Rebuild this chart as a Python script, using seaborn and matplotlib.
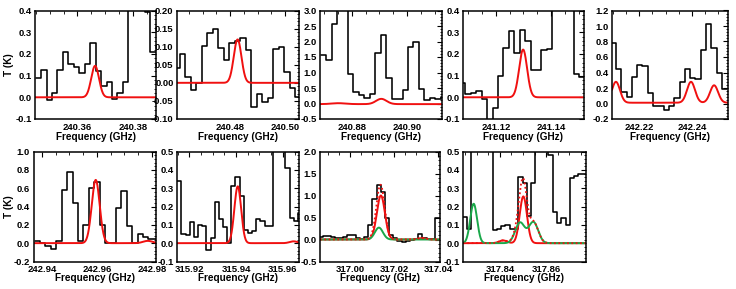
import numpy as np
import pandas as pd
import matplotlib
matplotlib.use("Agg")
import matplotlib.pyplot as plt
import seaborn as sns
from matplotlib.ticker import MultipleLocator, AutoMinorLocator, FuncFormatter

sns.set_theme(style="white")
plt.rcParams["font.family"] = ["Liberation Sans", "DejaVu Sans"]
plt.rcParams["axes.linewidth"] = 1.0

# ---------------- data (channel centres in GHz, brightness in K) ----------------
freq_1 = [240.3459, 240.34787, 240.34984, 240.35181, 240.35378, 240.35575, 240.35772,
          240.35969, 240.36166, 240.36363, 240.3656, 240.36757, 240.36954, 240.37151,
          240.37348, 240.37545, 240.37742, 240.37939, 240.38136, 240.38333, 240.3853, 240.38727]
tb_1 = [0.09, 0.125, -0.012, 0.02, 0.125, 0.21, 0.155, 0.14, 0.11, 0.155, 0.25, 0.12,
        0.05, 0.07, -0.01, 0.02, 0.07, 0.55, 0.7, 0.6, 0.395, 0.21]

freq_2 = [240.4606, 240.46261, 240.46462, 240.46663, 240.46864, 240.47065, 240.47266,
          240.47467, 240.47668, 240.47869, 240.4807, 240.48271, 240.48472, 240.48673,
          240.48874, 240.49075, 240.49276, 240.49477, 240.49678, 240.49879, 240.5008,
          240.50281, 240.50482]
tb_2 = [0.04, 0.08, 0.015, -0.02, 0.0, 0.103, 0.137, 0.149, 0.095, 0.063, 0.111, 0.115,
        0.125, 0.09, -0.068, -0.032, -0.053, -0.043, 0.093, 0.10, 0.03, -0.015, -0.04]

freq_3 = [240.8697, 240.87168, 240.87366, 240.87564, 240.87762, 240.8796, 240.88158,
          240.88356, 240.88554, 240.88752, 240.8895, 240.89148, 240.89346, 240.89544,
          240.89742, 240.8994, 240.90138, 240.90336, 240.90534, 240.90732, 240.9093,
          240.91128, 240.91326]
tb_3 = [1.55, 1.4, 2.57, 3.5, 3.4, 0.96, 0.37, 0.26, 0.17, 0.31, 1.62, 2.22, 0.83, 0.15,
        0.13, 0.43, 1.82, 1.98, 0.46, 0.12, 0.18, 0.13, 0.21]

freq_4 = [241.10799, 241.10996, 241.11193, 241.1139, 241.11587, 241.11784, 241.11981,
          241.12178, 241.12375, 241.12572, 241.12769, 241.12966, 241.13163, 241.1336,
          241.13557, 241.13754, 241.13951, 241.14148, 241.14345, 241.14542, 241.14739,
          241.14936, 241.15133]
tb_4 = [0.065, 0.017, 0.02, 0.03, -0.01, -0.16, -0.05, 0.10, 0.228, 0.305, 0.205, 0.31,
        0.26, 0.125, 0.125, 0.22, 0.222, 0.6, 0.8, 0.7, 0.5, 0.107, 0.094]

freq_5 = [242.2101, 242.21212, 242.21414, 242.21616, 242.21818, 242.2202, 242.22222,
          242.22424, 242.22626, 242.22828, 242.2303, 242.23232, 242.23434, 242.23636,
          242.23838, 242.2404, 242.24242, 242.24444, 242.24646, 242.24848, 242.2505,
          242.25252]
tb_5 = [0.78, 0.45, 0.15, 0.085, 0.34, 0.50, 0.48, 0.13, -0.035, -0.03, -0.09, -0.03,
        0.075, 0.28, 0.44, 0.33, 0.32, 0.69, 1.02, 0.71, 0.40, 0.19]

freq_6 = [242.93839, 242.94036, 242.94233, 242.9443, 242.94627, 242.94824, 242.95021,
          242.95218, 242.95415, 242.95612, 242.95809, 242.96006, 242.96203, 242.964,
          242.96597, 242.96794, 242.96991, 242.97188, 242.97385, 242.97582, 242.97779,
          242.97976, 242.98173]
tb_6 = [0.025, 0.0, -0.03, -0.06, 0.02, 0.58, 0.775, 0.44, 0.02, 0.2, 0.6, 0.67, 0.2,
        0.0, 0.0, 0.38, 0.57, 0.19, 0.0, 0.1, 0.065, 0.045, 0.045]

freq_7 = [315.91569, 315.91747, 315.91925, 315.92103, 315.92281, 315.92459, 315.92637,
          315.92815, 315.92993, 315.93171, 315.93349, 315.93527, 315.93705, 315.93883,
          315.94061, 315.94239, 315.94417, 315.94595, 315.94773, 315.94951, 315.95129,
          315.95307, 315.95485, 315.95663, 315.95841, 315.96019, 315.96197, 315.96375,
          315.96553, 315.96731]
tb_7 = [0.34, 0.05, 0.042, 0.113, 0.031, 0.10, 0.091, -0.036, 0.027, 0.222, 0.13, 0.09,
        0.0, 0.31, 0.36, 0.26, 0.073, 0.055, 0.067, 0.133, 0.122, 0.091, 0.091, 0.8, 0.9,
        0.8, 0.41, 0.14, 0.12, 0.164]

freq_8 = [316.9866, 316.98849, 316.99037, 316.99226, 316.99415, 316.99604, 316.99792,
          316.99981, 317.0017, 317.00358, 317.00547, 317.00736, 317.00924, 317.01113,
          317.01302, 317.01491, 317.01679, 317.01868, 317.02057, 317.02245, 317.02434,
          317.02623, 317.02811, 317.03, 317.03189, 317.03378, 317.03566, 317.03755,
          317.03944, 317.04132]
tb_8 = [0.06, 0.07, 0.08, 0.06, 0.04, 0.03, 0.05, 0.1, 0.1, 0.03, 0.02, 0.06, 0.33, 0.92,
        1.25, 1.08, 0.5, 0.1, 0.03, -0.04, -0.05, -0.04, -0.02, 0.02, 0.12, 0.04, 0.02,
        0.02, 0.5, 0.5]

freq_9 = [317.82478, 317.82664, 317.82849, 317.83035, 317.8322, 317.83406, 317.83591,
          317.83777, 317.83962, 317.84148, 317.84333, 317.84519, 317.84704, 317.8489,
          317.85075, 317.85261, 317.85446, 317.85632, 317.85817, 317.86003, 317.86188,
          317.86374, 317.86559, 317.86745, 317.8693, 317.87116, 317.87301, 317.87487,
          317.87672]
tb_9 = [0.145, 0.075, 0.9, 0.9, 0.9, 0.9, 0.9, 0.073, 0.078, 0.095, 0.10, 0.08, 0.08,
        0.36, 0.33, 0.15, 0.33, 0.9, 0.9, 0.9, 0.48, 0.17, 0.11, 0.135, 0.10, 0.355,
        0.365, 0.375, 0.375]

# model line components: (centre GHz, peak K, FWHM GHz)
red_1 = [(240.3664, 0.145, 0.0033)]
red_2 = [(240.4827, 0.12, 0.0033)]
red_3 = [(240.8907, 0.17, 0.0045), (240.8752, 0.03, 0.006)]
red_4 = [(241.1299, 0.22, 0.0034)]
red_5 = [(242.2111, 0.27, 0.0036), (242.2397, 0.27, 0.0036), (242.2485, 0.225, 0.0036)]
red_6 = [(242.9596, 0.69, 0.0034), (242.9785, 0.025, 0.004)]
red_7 = [(315.9407, 0.31, 0.0034), (315.9646, 0.01, 0.004)]
red_8 = [(317.0140, 1.0, 0.0043), (317.0325, 0.03, 0.004)]
red_9 = [(317.85014, 0.255, 0.0037), (317.8414, 0.015, 0.004)]
green_8 = [(317.0131, 0.27, 0.0043)]
green_9 = [(317.8287, 0.215, 0.0035), (317.8487, 0.112, 0.0048), (317.8545, 0.115, 0.0048)]
# dotted red = total model of the blended lines
dotted_8 = red_8 + green_8
dotted_9 = red_9 + green_9[1:]
baseline = [0.0, 0.0, -0.02, 0.0, 0.01, 0.0, 0.0, 0.0, 0.0]

xlims = [(240.3447, 240.3884), (240.4606, 240.5051), (240.8685, 240.9127),
         (241.1081, 241.1518), (242.2096, 242.2538), (242.9370, 242.9815),
         (315.9147, 315.9667), (316.9864, 317.0408), (317.8241, 317.8772)]
ylims = [(-0.1, 0.4), (-0.1, 0.2), (-0.5, 3.0), (-0.1, 0.4), (-0.2, 1.2),
         (-0.2, 1.0), (-0.1, 0.5), (-0.5, 2.0), (-0.1, 0.5)]
ysteps = [0.1, 0.05, 0.5, 0.1, 0.2, 0.2, 0.1, 0.5, 0.1]
ydec = [1, 2, 1, 1, 1, 1, 1, 1, 1]
x_label = "Frequency (GHz)"
y_label = "T (K)"

freqs = [freq_1, freq_2, freq_3, freq_4, freq_5, freq_6, freq_7, freq_8, freq_9]
tbs = [tb_1, tb_2, tb_3, tb_4, tb_5, tb_6, tb_7, tb_8, tb_9]
reds = [red_1, red_2, red_3, red_4, red_5, red_6, red_7, red_8, red_9]
greens = [[], [], [], [], [], [], [], green_8, green_9]
dotteds = [[], [], [], [], [], [], [], dotted_8, dotted_9]

# ---------------- layout (pixel boxes) ----------------
W, H = 736, 289
boxes = [(35, 156, 10.5, 119), (177, 299, 10.5, 119), (320, 442, 10.5, 119),
         (463, 583.5, 10.5, 119), (612, 728, 10.5, 119),
         (33.5, 156, 151.5, 261.5), (177, 298.5, 151.5, 261.5), (320, 440, 151.5, 261.5),
         (463, 586, 151.5, 261.5)]

RED = "#f01010"
GREEN = "#1aa84a"


def gauss_sum(x, comps, base=0.0):
    y = np.full_like(x, base, dtype=float)
    for c, a, fw in comps:
        y += a * np.exp(-4 * np.log(2) * (x - c) ** 2 / fw ** 2)
    return y


def edges(c):
    c = np.asarray(c, dtype=float)
    mids = (c[:-1] + c[1:]) / 2
    return np.concatenate([[2 * c[0] - mids[0]], mids, [2 * c[-1] - mids[-1]]])


fig = plt.figure(figsize=(W / 100, H / 100), dpi=100)
fig.patch.set_facecolor("white")

for i in range(9):
    l, r, t, b = boxes[i]
    ax = fig.add_axes([l / W, 1 - b / H, (r - l) / W, (b - t) / H])
    ax.set_facecolor("white")

    e = edges(freqs[i])
    v = list(tbs[i]) + [tbs[i][-1]]
    df = pd.DataFrame({"freq": e, "tb": v})
    sns.lineplot(data=df, x="freq", y="tb", ax=ax, color="black", linewidth=1.15,
                 drawstyle="steps-post", estimator=None, sort=False)

    xm = np.linspace(xlims[i][0], xlims[i][1], 800)
    red = gauss_sum(xm, reds[i], baseline[i])
    sns.lineplot(x=xm, y=red, ax=ax, color=RED, linewidth=1.4, estimator=None)
    if greens[i]:
        green = gauss_sum(xm, greens[i], baseline[i])
        sns.lineplot(x=xm, y=green, ax=ax, color=GREEN, linewidth=1.4, estimator=None)
    if dotteds[i]:
        tot = gauss_sum(xm, dotteds[i], baseline[i])
        sns.lineplot(x=xm, y=tot, ax=ax, color=RED, linewidth=1.3,
                     linestyle=(0, (1, 1.4)), estimator=None)

    ax.set_xlim(*xlims[i])
    ax.set_ylim(*ylims[i])
    ax.xaxis.set_major_locator(MultipleLocator(0.02))
    ax.xaxis.set_minor_locator(AutoMinorLocator(4))
    ax.yaxis.set_major_locator(MultipleLocator(ysteps[i]))
    ax.yaxis.set_minor_locator(AutoMinorLocator(5))
    ax.xaxis.set_major_formatter(FuncFormatter(lambda v, p: f"{round(v, 4) + 0.0:.2f}"))
    d = ydec[i]
    ax.yaxis.set_major_formatter(FuncFormatter(lambda v, p, d=d: f"{round(v, 4) + 0.0:.{d}f}"))
    ax.tick_params(which="both", direction="in", top=True, right=True, colors="black",
                   labelsize=6.8)
    ax.tick_params(which="major", length=3.5, width=0.8)
    ax.tick_params(which="minor", length=1.8, width=0.6)
    ax.tick_params(axis="x", which="major", pad=2.8)
    ax.tick_params(axis="y", which="major", pad=2.5)
    for lab in ax.get_xticklabels() + ax.get_yticklabels():
        lab.set_fontweight("bold")
    for sp in ax.spines.values():
        sp.set_color("black")
        sp.set_linewidth(1.1)

    ax.set_xlabel(x_label, fontsize=7.2, fontweight="bold", color="black")
    hpx = b - t
    ax.xaxis.set_label_coords(0.5, -(13.5 if i < 5 else 11.8) / hpx)
    if i in (0, 5):
        ax.set_ylabel(y_label, fontsize=7.2, fontweight="bold", color="black")
        ax.yaxis.set_label_coords(-(l - 14.0) / (r - l), 0.5)
    else:
        ax.set_ylabel("")

fig.savefig("out.png", dpi=100, facecolor="white")
